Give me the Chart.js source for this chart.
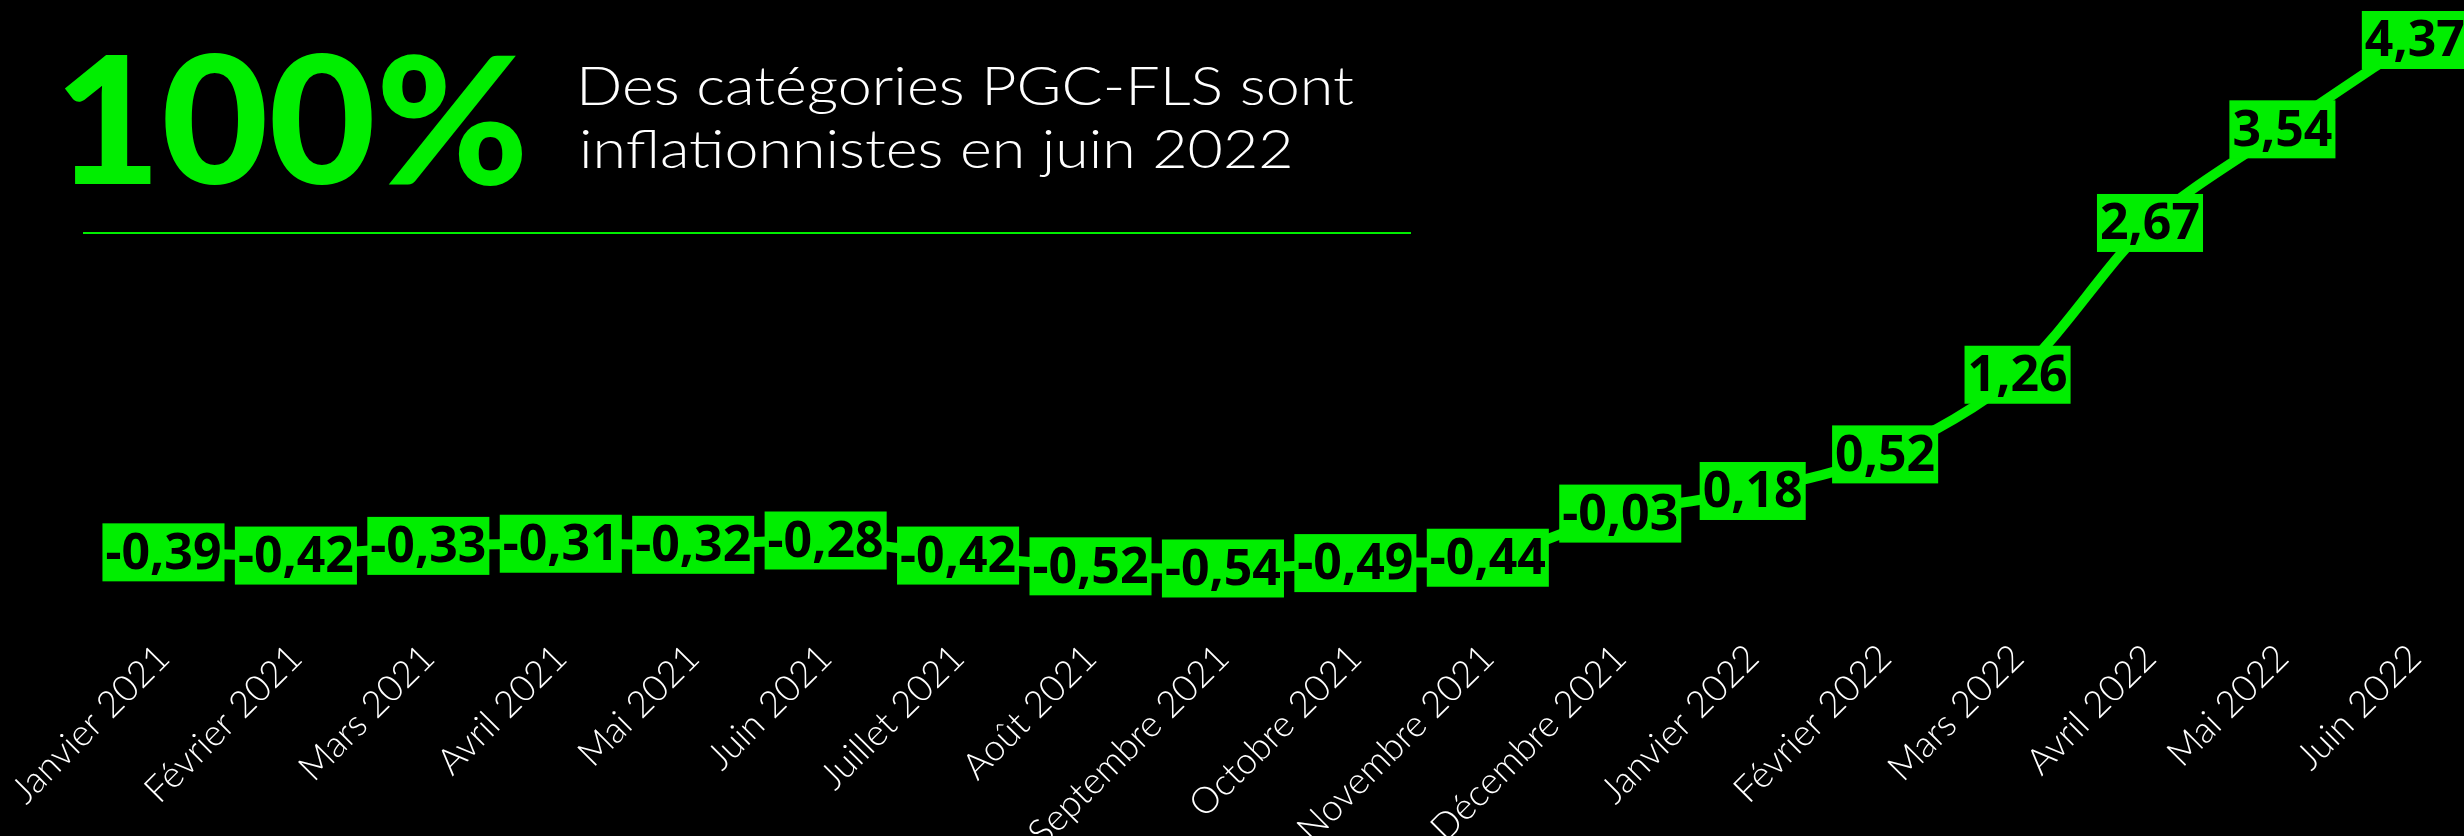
<!DOCTYPE html>
<html><head><meta charset="utf-8">
<script src="https://cdn.jsdelivr.net/npm/chart.js@4.4.0/dist/chart.umd.min.js"></script>
<style>
html,body{margin:0;padding:0;background:#000;width:2464px;height:836px;overflow:hidden;}
#c{position:absolute;left:0;top:0;}
.t{position:absolute;white-space:nowrap;transform-origin:0 0;margin:0;padding:0;}
#rule{position:absolute;left:83px;top:232px;width:1328px;height:2px;background:rgb(0,238,0);}
</style></head><body>
<canvas id="c" width="2464" height="836"></canvas>
<div id="big" class="t"></div>
<div id="sub1" class="t"></div>
<div id="sub2" class="t"></div>
<div id="rule"></div>
<script>
const categories = ["Janvier 2021","Février 2021","Mars 2021","Avril 2021","Mai 2021","Juin 2021","Juillet 2021","Août 2021","Septembre 2021","Octobre 2021","Novembre 2021","Décembre 2021","Janvier 2022","Février 2022","Mars 2022","Avril 2022","Mai 2022","Juin 2022"];
const values = [-0.39,-0.42,-0.33,-0.31,-0.32,-0.28,-0.42,-0.52,-0.54,-0.49,-0.44,-0.03,0.18,0.52,1.26,2.67,3.54,4.37];
const headline = "100%";
const subtitleLines = ["Des catégories PGC-FLS sont","inflationnistes en juin 2022"];

const GREEN = "rgb(0,238,0)";
const mctx = document.createElement('canvas').getContext('2d');

function place(id, text, font, color, inkLeft, baseline, inkWidth) {
  const el = document.getElementById(id);
  el.textContent = text;
  mctx.font = font;
  const m = mctx.measureText(text);
  const asc = m.fontBoundingBoxAscent, desc = m.fontBoundingBoxDescent;
  const ink = m.actualBoundingBoxLeft + m.actualBoundingBoxRight;
  const sx = inkWidth / ink;
  el.style.font = font;
  el.style.color = color;
  el.style.lineHeight = (asc + desc) + 'px';
  el.style.left = (inkLeft + sx * m.actualBoundingBoxLeft) + 'px';
  el.style.top = (baseline - asc) + 'px';
  el.style.transform = 'scaleX(' + sx + ')';
}
place('big', headline, "900 178px Lato", GREEN, 64, 184, 458);
place('sub1', subtitleLines[0], "300 53px Lato", "#fff", 582, 105, 772);
place('sub2', subtitleLines[1], "300 53px Lato", "#fff", 582, 168, 708);

// tick font size fitted to the reference label length
mctx.font = "300 100px Lato";
const tickSize = Math.round(100 * 266 / mctx.measureText("Septembre 2021").width * 10) / 10;
// data label font size
mctx.font = "bold 100px 'Noto Sans'";
const labelSize = Math.round(100 * 116 / mctx.measureText("-0,03").width);

const labelPlugin = {
  id: 'boxLabels',
  afterDatasetsDraw(chart) {
    const ctx = chart.ctx;
    const meta = chart.getDatasetMeta(0);
    ctx.save();
    ctx.font = "bold " + labelSize + "px 'Noto Sans'";
    ctx.textAlign = 'center';
    ctx.textBaseline = 'middle';
    meta.data.forEach((pt, i) => {
      const txt = values[i].toFixed(2).replace('.', ',');
      const w = ctx.measureText(txt).width + 6;
      const h = 58;
      ctx.fillStyle = GREEN;
      ctx.fillRect(pt.x - w / 2, pt.y - h / 2, w, h);
      ctx.fillStyle = '#000';
      ctx.fillText(txt, pt.x, pt.y + 2);
    });
    ctx.restore();
  }
};

new Chart(document.getElementById('c'), {
  type: 'line',
  data: {
    labels: categories,
    datasets: [{
      data: values,
      borderColor: GREEN,
      borderWidth: 10,
      pointRadius: 0,
      tension: 0.3,
      fill: false,
      clip: false
    }]
  },
  options: {
    responsive: false,
    animation: false,
    events: [],
    layout: { padding: { left: 155, right: 48, top: 26, bottom: 0 } },
    plugins: { legend: { display: false }, tooltip: { enabled: false } },
    scales: {
      x: {
        grid: { display: false, drawTicks: false },
        border: { display: false },
        ticks: {
          color: '#fff',
          font: { family: 'Lato', weight: 300, size: tickSize },
          minRotation: 45, maxRotation: 45, autoSkip: false, padding: 18
        },
        afterFit(scale) { scale.height = 218; }
      },
      y: { display: false, min: -1, max: 4.5 }
    }
  },
  plugins: [labelPlugin]
});
</script>
</body></html>
